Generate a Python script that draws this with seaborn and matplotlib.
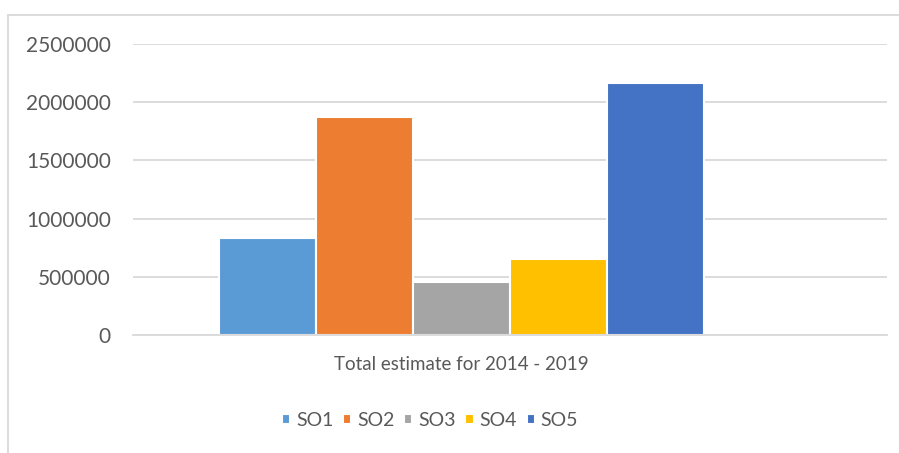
import matplotlib.pyplot as plt
import pandas as pd
import seaborn as sns
from matplotlib.lines import Line2D
from matplotlib.ticker import StrMethodFormatter

# values
categories = ["Total estimate for 2014 - 2019"]
series = ["SO1", "SO2", "SO3", "SO4", "SO5"]
estimates = [832000, 1873000, 456000, 651000, 2163000]
yticks = [0, 500000, 1000000, 1500000, 2000000, 2500000]

colors = ["#5b9bd5", "#ed7d31", "#a5a5a5", "#ffc000", "#4472c4"]
grid_color = "#d9d9d9"
text_color = "#595959"

df = pd.DataFrame(
    {
        "period": categories * len(series),
        "series": series,
        "estimate": estimates,
    }
)

sns.set_theme(style="white")
plt.rcParams["font.family"] = ["Lato", "DejaVu Sans"]

fig = plt.figure(figsize=(8.99, 4.53), dpi=100)
ax = fig.add_axes([133 / 899, 118 / 453, (887 - 133) / 899, (335 - 44) / 453])

sns.barplot(
    data=df,
    x="period",
    y="estimate",
    hue="series",
    hue_order=series,
    palette=colors,
    saturation=1,
    width=0.8,
    edgecolor="white",
    linewidth=1.5,
    ax=ax,
)

ax.set_xlim(-0.542, 0.702)
ax.set_ylim(0, 2500000)
ax.set_yticks(yticks)
ax.yaxis.set_major_formatter(StrMethodFormatter("{x:.0f}"))
ax.set_axisbelow(True)
ax.yaxis.grid(True, color=grid_color, linewidth=1.3)
ax.set_xlabel("")
ax.set_ylabel("")

for side in ["top", "right", "left"]:
    ax.spines[side].set_visible(False)
ax.spines["bottom"].set_color(grid_color)
ax.spines["bottom"].set_linewidth(1.3)

ax.tick_params(axis="y", length=0, pad=16, labelsize=15, labelcolor=text_color)
ax.tick_params(axis="x", which="major", length=0, pad=15, labelsize=13.5, labelcolor=text_color)
ax.set_xticks([-0.542, 0.702], minor=True)
ax.tick_params(axis="x", which="minor", length=4, width=1.3, color=grid_color, direction="out")

handles, labels = ax.get_legend_handles_labels()
ax.get_legend().remove()
fig.legend(
    handles,
    labels,
    loc="center",
    bbox_to_anchor=(430 / 899, 1 - 420 / 453),
    ncol=5,
    frameon=False,
    fontsize=14,
    labelcolor=text_color,
    handlelength=0.42,
    handleheight=0.42,
    handletextpad=0.3,
    columnspacing=0.5,
)

# light chart-area border (top and left edges visible in the crop)
fig.add_artist(Line2D([8 / 899, 8 / 899], [0, 1 - 15 / 453], color=grid_color, lw=1.3))
fig.add_artist(Line2D([8 / 899, 1], [1 - 15 / 453, 1 - 15 / 453], color=grid_color, lw=1.3))

fig.savefig("out.png", dpi=100)
